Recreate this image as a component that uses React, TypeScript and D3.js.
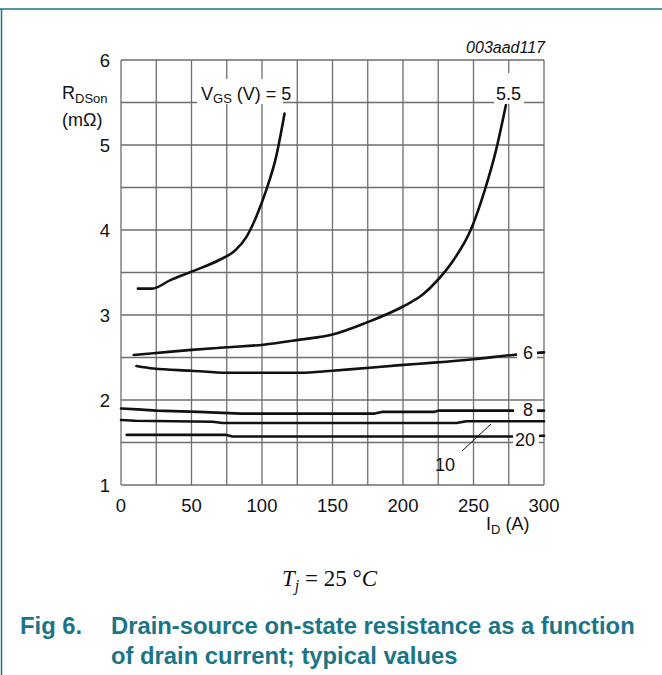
import React from "react";
import * as d3 from "d3";

const xTicks = [0, 50, 100, 150, 200, 250, 300];
const yTicks = [1, 2, 3, 4, 5, 6];

const vgs5I = [12, 22, 35, 50, 70, 81, 89, 96, 103, 110, 116];
const vgs5R = [3.31, 3.31, 3.41, 3.51, 3.65, 3.76, 3.92, 4.16, 4.47, 4.86, 5.37];

const vgs55I = [9, 23, 50, 75, 101, 127, 150, 174, 200, 214, 224, 236, 248, 258, 266, 273];
const vgs55R = [2.53, 2.55, 2.59, 2.62, 2.65, 2.71, 2.77, 2.91, 3.1, 3.24, 3.4, 3.65, 4.0, 4.47, 4.94, 5.47];

const vgs6I = [11, 23, 50, 75, 101, 127, 150, 162, 198, 222, 250, 278, 300];
const vgs6R = [2.4, 2.37, 2.345, 2.32, 2.32, 2.32, 2.345, 2.36, 2.41, 2.44, 2.48, 2.53, 2.56];

const vgs8I = [0, 12, 25, 55, 85, 180, 185, 222, 225, 300];
const vgs8R = [1.9, 1.89, 1.875, 1.86, 1.84, 1.84, 1.86, 1.86, 1.875, 1.875];

const vgs10I = [0, 10, 65, 72, 238, 245, 300];
const vgs10R = [1.765, 1.755, 1.745, 1.73, 1.73, 1.75, 1.75];

const vgs20I = [4, 74, 79, 278, 300];
const vgs20R = [1.59, 1.59, 1.57, 1.57, 1.58];

const TEAL = "#1a7587";

export default function App() {
  const x = d3.scaleLinear().domain([0, 300]).range([121, 544]);
  const y = d3.scaleLinear().domain([1, 6]).range([485, 60]);
  const smooth = d3
    .line<[number, number]>()
    .x((d) => x(d[0]))
    .y((d) => y(d[1]))
    .curve(d3.curveMonotoneX);
  const straight = d3
    .line<[number, number]>()
    .x((d) => x(d[0]))
    .y((d) => y(d[1]));
  const zip = (a: number[], b: number[]) => a.map((v, i) => [v, b[i]] as [number, number]);

  const vGrid = d3.range(0, 301, 25);
  const hGrid = d3.range(1, 6.01, 0.5);
  const font = "Arial, 'Liberation Sans', Helvetica, sans-serif";

  return (
    <svg width={662} height={675} style={{ position: "absolute", left: 0, top: 0 }} fontFamily={font}>
      <rect x={0} y={0} width={662} height={675} fill="#fff" />
      <line x1={0} x2={662} y1={9} y2={9} stroke={TEAL} strokeWidth={1.5} />
      <line x1={1.5} x2={1.5} y1={9} y2={675} stroke={TEAL} strokeWidth={1.5} />

      {vGrid.map((v) => (
        <line key={"v" + v} x1={x(v)} x2={x(v)} y1={y(1)} y2={y(6)} stroke="#6e6e6e" strokeWidth={1.3} />
      ))}
      {hGrid.map((v) => (
        <line key={"h" + v} x1={x(0)} x2={x(300)} y1={y(v)} y2={y(v)} stroke="#6e6e6e" strokeWidth={1.3} />
      ))}

      <g fill="none" stroke="#111" strokeWidth={2.6} strokeLinejoin="round" strokeLinecap="round">
        <path d={smooth(zip(vgs5I, vgs5R)) || ""} />
        <path d={smooth(zip(vgs55I, vgs55R)) || ""} />
        <path d={smooth(zip(vgs6I, vgs6R)) || ""} />
        <path d={straight(zip(vgs8I, vgs8R)) || ""} />
        <path d={straight(zip(vgs10I, vgs10R)) || ""} />
        <path d={straight(zip(vgs20I, vgs20R)) || ""} />
      </g>

      {/* label boxes */}
      <rect x={197} y={79} width={86} height={25} fill="#fff" />
      <rect x={494} y={73} width={30} height={31} fill="#fff" />
      <rect x={517} y={344} width={20} height={18} fill="#fff" />
      <rect x={514} y={401} width={23} height={18} fill="#fff" />
      <rect x={513} y={429} width={26} height={17} fill="#fff" />

      <g fontSize={18} fill="#111">
        <text x={201} y={100}>
          V<tspan fontSize={13} dy={3}>GS</tspan>
          <tspan dy={-3}> (V) = 5</tspan>
        </text>
        <text x={496} y={100}>5.5</text>
        <text x={523} y={359}>6</text>
        <text x={523} y={416}>8</text>
        <text x={515} y={446}>20</text>
        <text x={435} y={471}>10</text>
      </g>
      <line x1={462} y1={451} x2={491} y2={424} stroke="#111" strokeWidth={1} />

      {yTicks.map((t) => (
        <text key={"yt" + t} x={110} y={y(t) + 6.5} fontSize={18.5} textAnchor="end" fill="#111">
          {t}
        </text>
      ))}
      {xTicks.map((t) => (
        <text key={"xt" + t} x={x(t)} y={512} fontSize={18.5} textAnchor="middle" fill="#111">
          {t}
        </text>
      ))}

      <text x={486} y={530} fontSize={18} fill="#111">
        I<tspan fontSize={13} dy={4}>D</tspan>
        <tspan dy={-4}> (A)</tspan>
      </text>
      <text x={62} y={99} fontSize={18} fill="#111">
        R<tspan fontSize={13} dy={4}>DSon</tspan>
      </text>
      <text x={62} y={126} fontSize={18} fill="#111">(mΩ)</text>
      <text x={545} y={53} fontSize={16} fontStyle="italic" textAnchor="end" fill="#111">
        003aad117
      </text>

      <text x={282} y={586} fontSize={23} fontFamily="'Liberation Serif', 'DejaVu Serif', serif" fill="#111">
        <tspan fontStyle="italic">T</tspan>
        <tspan fontStyle="italic" fontSize={16} dy={5}>j</tspan>
        <tspan dy={-5}> = 25 °</tspan>
        <tspan fontStyle="italic">C</tspan>
      </text>

      <g fontSize={23.8} fontWeight="bold" fill={TEAL}>
        <text x={20} y={634}>Fig 6.</text>
        <text x={111} y={634}>Drain-source on-state resistance as a function</text>
        <text x={111} y={664}>of drain current; typical values</text>
      </g>
    </svg>
  );
}
